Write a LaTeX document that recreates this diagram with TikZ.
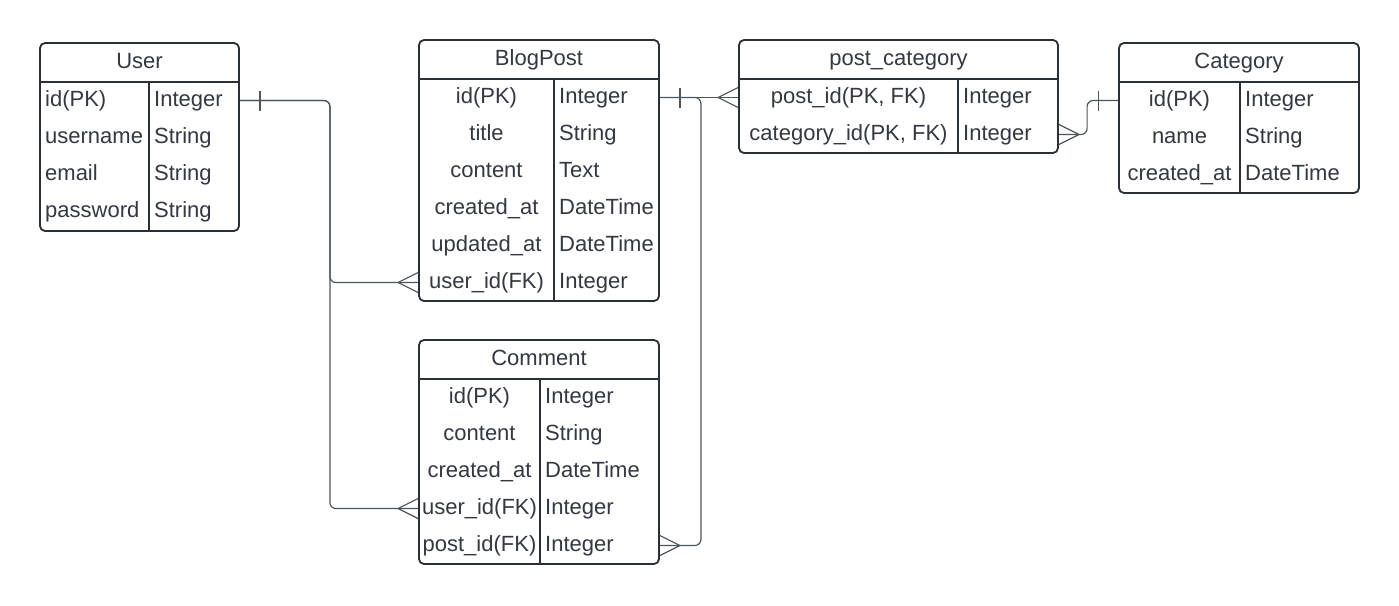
\documentclass[tikz,border=0pt]{standalone}
\usepackage{fontspec}
\setmainfont{Liberation Sans}
\definecolor{ink}{HTML}{2B2F36}
\definecolor{txt}{HTML}{333841}
\definecolor{wire}{HTML}{4E545C}

\tikzset{
  entity/.style={draw=ink, line width=1.8pt, rounded corners=5pt, inner sep=0pt, fill=white},
  rule/.style={draw=ink, line width=1.6pt},
  field/.style={inner sep=0pt, text=txt, font=\fontsize{22}{26}\selectfont, text height=15pt, text depth=4pt},
  link/.style={draw=wire, line width=1.2pt, rounded corners=6pt},
  crowfoot/.pic={\draw[wire, line width=1.2pt] (0,-10) -- (-20,0) -- (0,10);},
  onebar/.pic={\draw[wire, line width=1.2pt] (0,-10) -- (0,10);},
}

\begin{document}
\begin{tikzpicture}[x=1pt, y=-1pt]
    \useasboundingbox (0,0) rectangle (1399,605);

    % User
    \node[entity, minimum width=199pt, minimum height=188pt] (user) at (139.5,137) {};
    \draw[rule] (40,82) -- (239,82) (149,82) -- (149,231);
    \node[field] (user-head) at (139.5,62.5) {User};
    \foreach \f/\t [count=\i] in {id(PK)/Integer, username/String, email/String, password/String}{
        \node[field, anchor=west] (user-f\i) at (45,{63.5+37*\i}) {\f};
        \node[field, anchor=west] (user-t\i) at (154,{63.5+37*\i}) {\t};
    }

    % BlogPost
    \node[entity, minimum width=240pt, minimum height=261pt] (blogpost) at (539,170.5) {};
    \draw[rule] (419,79) -- (659,79) (554,79) -- (554,301);
    \node[field] (blogpost-head) at (539,59.5) {BlogPost};
    \foreach \f/\t [count=\i] in {id(PK)/Integer, title/String, content/Text, created\_at/DateTime, updated\_at/DateTime, user\_id(FK)/Integer}{
        \node[field] (blogpost-f\i) at (486.5,{60.5+37*\i}) {\f};
        \node[field, anchor=west] (blogpost-t\i) at (559,{60.5+37*\i}) {\t};
    }

    % Comment
    \node[entity, minimum width=240pt, minimum height=224pt] (comment) at (539,452) {};
    \draw[rule] (419,379) -- (659,379) (540,379) -- (540,564);
    \node[field] (comment-head) at (539,359.5) {Comment};
    \foreach \f/\t [count=\i] in {id(PK)/Integer, content/String, created\_at/DateTime, user\_id(FK)/Integer, post\_id(FK)/Integer}{
        \node[field] (comment-f\i) at (479.5,{360.5+37*\i}) {\f};
        \node[field, anchor=west] (comment-t\i) at (545,{360.5+37*\i}) {\t};
    }

    % post_category
    \node[entity, minimum width=319pt, minimum height=113pt] (postcat) at (898.5,96.5) {};
    \draw[rule] (739,79) -- (1058,79) (958,79) -- (958,153);
    \node[field] (postcat-head) at (898.5,59.5) {post\_category};
    \foreach \f/\t [count=\i] in {{post\_id(PK, FK)}/Integer, {category\_id(PK, FK)}/Integer}{
        \node[field] (postcat-f\i) at (848.5,{60.5+37*\i}) {\f};
        \node[field, anchor=west] (postcat-t\i) at (963,{60.5+37*\i}) {\t};
    }

    % Category
    \node[entity, minimum width=240pt, minimum height=150pt] (category) at (1239,118) {};
    \draw[rule] (1119,82) -- (1359,82) (1240,82) -- (1240,193);
    \node[field] (category-head) at (1239,62.5) {Category};
    \foreach \f/\t [count=\i] in {id(PK)/Integer, name/String, created\_at/DateTime}{
        \node[field] (category-f\i) at (1179.5,{63.5+37*\i}) {\f};
        \node[field, anchor=west] (category-t\i) at (1245,{63.5+37*\i}) {\t};
    }

    % Relationship ends
    \coordinate (u1) at (user.east |- user-t1);
    \coordinate (b1) at (blogpost.east |- blogpost-t1);
    \coordinate (b6) at (blogpost.west |- blogpost-f6);
    \coordinate (c4) at (comment.west |- comment-f4);
    \coordinate (c5) at (comment.east |- comment-t5);
    \coordinate (p1) at (postcat.west |- postcat-f1);
    \coordinate (p2) at (postcat.east |- postcat-t2);
    \coordinate (k1) at (category.west |- category-f1);

    % Relationships
    \draw[link] (u1) -- ++(90,0) |- (b6);
    \draw[link] (u1) -- ++(90,0) |- (c4);
    \draw[link] (b1) -- (p1);
    \draw[link] (b1) -- ++(41,0) |- (c5);
    \draw[link] (k1) -- ++(-31,0) |- (p2);

    \pic at ([xshift=20pt]u1) {onebar};
    \pic at ([xshift=20pt]b1) {onebar};
    \pic at ([xshift=-20pt]k1) {onebar};
    \pic at (b6) {crowfoot};
    \pic at (c4) {crowfoot};
    \pic at (p1) {crowfoot};
    \pic[rotate=180] at (c5) {crowfoot};
    \pic[rotate=180] at (p2) {crowfoot};
\end{tikzpicture}
\end{document}
